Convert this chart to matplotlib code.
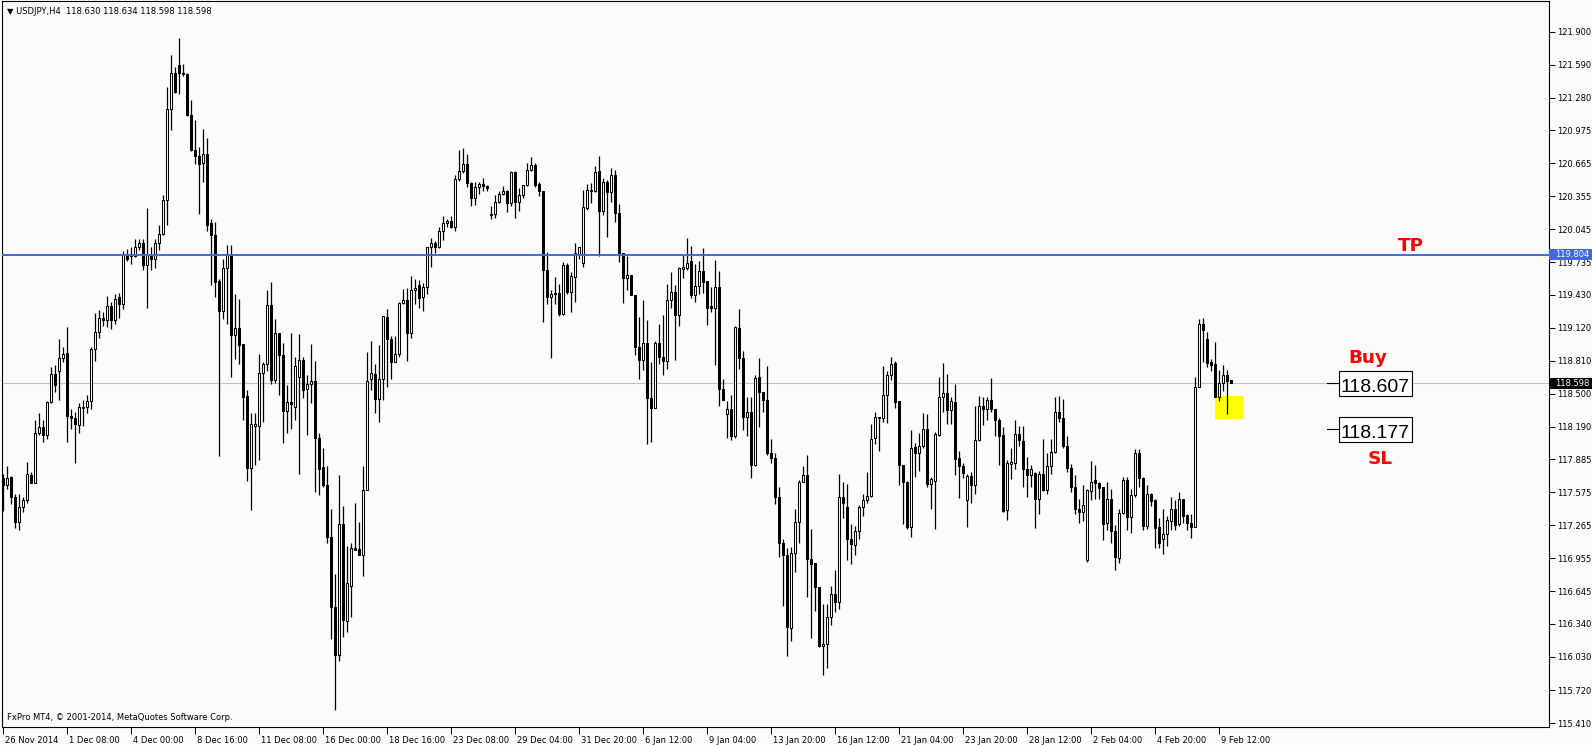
import numpy as np
import matplotlib
matplotlib.use("Agg")
import matplotlib.pyplot as plt
from matplotlib.patches import Rectangle
from matplotlib.transforms import ScaledTranslation

plt.rcParams['font.family'] = ['DejaVu Sans']

# USDJPY H4 candles, 26 Nov 2014 16:00 -> 9 Feb 2015
opens = [
    117.71, 117.64, 117.72, 117.53, 117.30, 117.44, 117.50, 117.74, 117.66, 118.13,
    118.19, 118.11, 118.42, 118.69, 118.71, 118.84, 118.88, 118.29, 118.27, 118.21,
    118.37, 118.38, 118.43, 118.92, 119.08, 119.21, 119.19, 119.32, 119.19, 119.41,
    119.34, 119.80, 119.79, 119.79, 119.88, 119.92, 119.71, 119.80, 119.77, 119.92,
    120.00, 120.32, 121.17, 121.51, 121.59, 121.51, 121.50, 121.12, 120.79, 120.73,
    120.67, 120.75, 120.10, 119.99, 119.56, 119.28, 119.68, 119.80, 119.05, 119.12,
    118.97, 118.48, 117.80, 118.20, 118.20, 118.70, 118.78, 119.33, 118.63, 119.07,
    118.86, 118.34, 118.42, 118.38, 118.66, 118.82, 118.55, 118.59, 118.62, 118.09,
    117.81, 117.64, 117.16, 116.50, 116.05, 117.28, 116.37, 116.70, 117.05, 117.04,
    116.99, 117.60, 118.64, 118.69, 118.45, 118.64, 119.22, 119.01, 118.80, 118.87,
    119.35, 119.38, 119.07, 119.47, 119.52, 119.41, 119.50, 119.88, 119.92, 119.88,
    120.03, 120.10, 120.12, 120.07, 120.52, 120.59, 120.66, 120.48, 120.34, 120.44,
    120.47, 120.45, 120.18, 120.19, 120.30, 120.38, 120.40, 120.29, 120.58, 120.30,
    120.37, 120.46, 120.60, 120.65, 120.47, 120.40, 119.66, 119.41, 119.45, 119.45,
    119.25, 119.71, 119.46, 119.60, 119.81, 119.73, 120.24, 120.41, 120.40, 120.59,
    120.22, 120.49, 120.39, 120.55, 120.20, 119.82, 119.59, 119.62, 119.43, 118.94,
    118.82, 118.98, 118.46, 118.37, 118.98, 118.85, 118.81, 119.38, 119.46, 119.24,
    119.67, 119.68, 119.75, 119.43, 119.51, 119.65, 119.56, 119.32, 119.31, 119.50,
    118.55, 118.31, 118.36, 118.10, 119.12, 118.84, 118.28, 118.33, 117.83, 118.66,
    118.52, 118.44, 117.94, 117.90, 117.53, 117.10, 116.99, 116.30, 117.01, 117.30,
    117.67, 117.74, 116.95, 116.91, 116.69, 116.13, 116.15, 116.41, 116.62, 116.55,
    117.53, 117.44, 117.14, 117.08, 117.21, 117.44, 117.50, 117.54, 118.09, 118.28,
    118.27, 118.49, 118.68, 118.79, 118.43, 117.83, 117.67, 117.25, 118.00, 117.94,
    118.01, 118.17, 117.65, 117.68, 118.11, 118.47, 118.51, 118.35, 118.42, 117.90,
    117.82, 117.50, 117.73, 117.64, 118.07, 118.39, 118.36, 118.44, 118.36, 118.25,
    118.11, 117.41, 117.84, 117.85, 118.12, 118.06, 117.79, 117.74, 117.76, 117.51,
    117.75, 117.60, 117.82, 117.95, 118.33, 118.27, 118.01, 117.80, 117.63, 117.42,
    117.39, 116.94, 117.59, 117.69, 117.66, 117.63, 117.29, 117.51, 117.21, 116.96,
    117.38, 117.69, 117.34, 117.55, 117.94, 117.71, 117.26, 117.56, 117.50, 117.25,
    117.14, 117.18, 117.31, 117.42, 117.28, 117.51, 117.36, 117.29, 117.25, 118.56,
    119.16, 119.01, 118.80, 118.78, 118.47, 118.60, 118.68, 118.630,
]
highs = [
    117.75, 117.82, 117.73, 117.56, 117.56, 117.53, 117.86, 117.77, 118.25, 118.32,
    118.25, 118.43, 118.75, 118.77, 119.01, 118.94, 119.13, 118.36, 118.33, 118.41,
    118.44, 118.49, 118.94, 119.26, 119.29, 119.27, 119.42, 119.36, 119.44, 119.45,
    119.84, 119.86, 119.88, 119.95, 119.95, 119.95, 120.24, 119.88, 119.95, 120.08,
    120.37, 121.38, 121.68, 121.57, 121.84, 121.60, 121.51, 121.26, 121.07, 120.82,
    120.99, 120.90, 120.14, 120.11, 119.58, 119.77, 119.90, 119.90, 119.44, 119.39,
    118.97, 118.54, 118.32, 118.32, 118.87, 118.80, 119.47, 119.55, 119.20, 119.07,
    118.98, 118.58, 119.07, 118.85, 119.06, 118.85, 118.68, 118.97, 118.81, 118.13,
    117.99, 117.82, 117.42, 116.81, 117.74, 117.45, 117.07, 117.10, 117.48, 117.30,
    117.82, 118.89, 119.00, 118.78, 118.96, 119.23, 119.30, 119.04, 119.04, 119.36,
    119.48, 119.49, 119.61, 119.58, 119.57, 119.54, 119.88, 119.96, 119.93, 120.07,
    120.17, 120.14, 120.17, 120.55, 120.79, 120.81, 120.75, 120.49, 120.49, 120.49,
    120.53, 120.46, 120.26, 120.37, 120.40, 120.45, 120.41, 120.59, 120.59, 120.43,
    120.46, 120.67, 120.72, 120.67, 120.49, 120.40, 119.83, 119.47, 119.60, 119.53,
    119.74, 119.73, 119.64, 119.92, 119.88, 120.41, 120.47, 120.48, 120.64, 120.73,
    120.53, 120.51, 120.62, 120.60, 120.28, 119.82, 119.79, 119.62, 119.43, 119.22,
    119.38, 119.19, 118.80, 119.00, 119.16, 119.24, 119.53, 119.64, 119.52, 119.69,
    119.80, 119.96, 119.89, 119.72, 119.75, 119.87, 119.56, 119.50, 119.76, 119.65,
    118.64, 118.43, 118.49, 119.14, 119.30, 118.90, 118.47, 118.47, 118.68, 118.84,
    118.52, 118.76, 118.08, 117.94, 117.63, 117.14, 117.05, 117.06, 117.42, 117.69,
    117.82, 117.93, 117.23, 116.91, 116.69, 116.53, 116.53, 116.70, 116.85, 117.75,
    117.67, 117.65, 117.28, 117.26, 117.46, 117.56, 117.77, 118.22, 118.33, 118.28,
    118.76, 118.71, 118.85, 118.81, 118.43, 117.83, 117.68, 118.16, 118.04, 118.13,
    118.32, 118.31, 117.72, 118.14, 118.66, 118.79, 118.69, 118.47, 118.59, 117.96,
    117.85, 117.75, 117.77, 118.39, 118.48, 118.47, 118.47, 118.65, 118.36, 118.27,
    118.19, 117.88, 117.99, 118.25, 118.20, 118.20, 117.91, 117.83, 117.77, 117.78,
    118.08, 117.94, 118.08, 118.47, 118.48, 118.45, 118.10, 117.84, 117.74, 117.51,
    117.64, 117.61, 117.87, 117.83, 117.67, 117.63, 117.67, 117.61, 117.27, 117.42,
    117.72, 117.72, 117.61, 117.98, 117.98, 117.72, 117.64, 117.57, 117.51, 117.33,
    117.42, 117.35, 117.53, 117.50, 117.58, 117.51, 117.37, 117.37, 118.66, 119.20,
    119.21, 119.08, 118.83, 118.99, 118.72, 118.77, 118.72, 118.634,
]
lows = [
    117.40, 117.61, 117.47, 117.24, 117.22, 117.39, 117.48, 117.66, 117.66, 118.11,
    118.05, 118.08, 118.41, 118.52, 118.44, 118.80, 118.05, 118.17, 117.85, 118.13,
    118.20, 118.32, 118.36, 118.81, 119.02, 119.14, 119.13, 119.11, 119.16, 119.21,
    119.30, 119.75, 119.72, 119.78, 119.85, 119.66, 119.31, 119.66, 119.68, 119.85,
    119.99, 120.08, 120.98, 121.32, 121.31, 121.48, 121.11, 120.78, 120.66, 120.19,
    120.49, 120.03, 119.52, 119.41, 117.92, 119.20, 119.16, 118.66, 118.83, 118.78,
    118.25, 117.68, 117.41, 117.83, 117.88, 118.24, 118.71, 118.59, 118.60, 118.49,
    118.04, 118.13, 118.17, 118.25, 117.75, 118.46, 118.11, 118.41, 117.58, 117.55,
    117.63, 117.10, 116.20, 115.53, 115.99, 116.22, 116.26, 116.41, 117.03, 116.99,
    116.79, 117.60, 118.54, 118.32, 118.24, 118.44, 118.56, 118.64, 118.80, 118.85,
    119.34, 118.81, 119.02, 119.34, 119.31, 119.28, 119.44, 119.69, 119.82, 119.87,
    119.94, 120.07, 120.06, 120.03, 120.50, 120.57, 120.44, 120.26, 120.27, 120.38,
    120.40, 120.40, 120.14, 120.15, 120.29, 120.37, 120.21, 120.26, 120.15, 120.22,
    120.34, 120.45, 120.59, 120.44, 120.36, 119.17, 119.34, 118.84, 119.34, 119.23,
    119.24, 119.44, 119.27, 119.36, 119.77, 119.69, 120.23, 120.29, 120.39, 119.79,
    120.18, 119.97, 120.30, 120.11, 119.74, 119.35, 119.47, 119.43, 118.86, 118.64,
    118.72, 118.03, 118.05, 118.37, 118.78, 118.68, 118.73, 119.31, 118.82, 119.14,
    119.59, 119.66, 119.40, 119.36, 119.44, 119.45, 119.15, 119.27, 118.77, 118.39,
    118.44, 118.09, 118.07, 118.09, 118.73, 118.16, 118.10, 117.71, 117.82, 118.19,
    118.33, 117.93, 117.85, 117.47, 116.97, 116.51, 116.04, 116.18, 116.83, 117.10,
    117.67, 116.59, 116.21, 116.46, 116.12, 115.86, 115.93, 116.33, 116.45, 116.48,
    117.33, 116.94, 116.90, 116.99, 117.14, 117.35, 117.48, 117.53, 118.03, 117.96,
    118.24, 118.23, 118.63, 118.37, 117.64, 117.28, 117.23, 117.16, 117.72, 117.78,
    117.99, 117.63, 117.42, 117.23, 118.10, 118.33, 118.22, 118.22, 117.74, 117.52,
    117.71, 117.25, 117.48, 117.56, 118.06, 118.21, 118.25, 118.33, 118.10, 117.83,
    117.39, 117.32, 117.70, 117.79, 118.01, 117.63, 117.53, 117.63, 117.24, 117.37,
    117.59, 117.56, 117.75, 117.94, 118.24, 117.99, 117.77, 117.58, 117.37, 117.29,
    117.31, 116.92, 117.50, 117.51, 117.51, 117.13, 117.22, 117.10, 116.85, 116.91,
    117.37, 117.22, 117.19, 117.53, 117.63, 117.22, 117.23, 117.45, 117.05, 117.05,
    117.00, 117.07, 117.22, 117.22, 117.26, 117.29, 117.22, 117.15, 117.25, 118.56,
    118.80, 118.75, 118.71, 118.47, 118.43, 118.53, 118.31, 118.598,
]
closes = [
    117.64, 117.71, 117.53, 117.30, 117.44, 117.50, 117.75, 117.66, 118.13, 118.19,
    118.11, 118.42, 118.69, 118.58, 118.84, 118.87, 118.29, 118.27, 118.22, 118.38,
    118.38, 118.43, 118.92, 119.08, 119.21, 119.19, 119.32, 119.19, 119.39, 119.34,
    119.80, 119.77, 119.80, 119.88, 119.92, 119.71, 119.80, 119.77, 119.92, 120.00,
    120.32, 121.17, 121.51, 121.33, 121.51, 121.50, 121.12, 120.79, 120.73, 120.66,
    120.75, 120.08, 119.99, 119.55, 119.28, 119.68, 119.80, 119.05, 119.12, 118.96,
    118.47, 117.80, 118.22, 118.22, 118.70, 118.78, 119.33, 118.63, 119.07, 118.86,
    118.34, 118.42, 118.40, 118.76, 118.82, 118.54, 118.59, 118.62, 118.09, 117.79,
    117.64, 117.16, 116.50, 116.05, 117.28, 116.38, 116.72, 117.05, 117.03, 116.99,
    117.60, 118.62, 118.70, 118.45, 118.64, 119.23, 119.01, 118.80, 118.87, 119.35,
    119.38, 119.07, 119.47, 119.49, 119.40, 119.50, 119.88, 119.92, 119.88, 120.03,
    120.10, 120.12, 120.07, 120.52, 120.59, 120.66, 120.48, 120.34, 120.44, 120.47,
    120.45, 120.43, 120.19, 120.30, 120.38, 120.40, 120.29, 120.58, 120.30, 120.37,
    120.46, 120.60, 120.65, 120.46, 120.40, 119.66, 119.41, 119.44, 119.44, 119.25,
    119.71, 119.46, 119.61, 119.82, 119.88, 120.25, 120.41, 120.40, 120.58, 120.22,
    120.49, 120.39, 120.55, 120.20, 119.82, 119.59, 119.62, 119.43, 118.94, 118.82,
    118.98, 118.46, 118.37, 118.98, 118.85, 118.81, 119.38, 119.46, 119.24, 119.68,
    119.69, 119.73, 119.43, 119.51, 119.65, 119.55, 119.31, 119.31, 119.50, 118.55,
    118.44, 118.36, 118.10, 119.13, 118.84, 118.28, 118.33, 117.83, 118.65, 118.52,
    118.44, 117.94, 117.90, 117.53, 117.10, 116.99, 116.31, 117.01, 117.30, 117.67,
    117.74, 116.95, 116.90, 116.69, 116.13, 116.15, 116.41, 116.62, 116.55, 117.53,
    117.48, 117.14, 117.09, 117.21, 117.44, 117.50, 117.54, 118.08, 118.28, 118.27,
    118.49, 118.68, 118.78, 118.42, 117.83, 117.67, 117.25, 117.99, 117.94, 118.01,
    118.17, 117.65, 117.70, 118.12, 118.47, 118.51, 118.35, 118.43, 117.89, 117.82,
    117.76, 117.73, 117.64, 118.07, 118.39, 118.36, 118.44, 118.36, 118.25, 118.10,
    117.40, 117.85, 117.86, 118.12, 118.07, 117.79, 117.74, 117.79, 117.51, 117.75,
    117.60, 117.82, 117.95, 118.33, 118.27, 118.01, 117.80, 117.63, 117.42, 117.39,
    117.46, 117.60, 117.67, 117.66, 117.62, 117.28, 117.51, 117.21, 116.97, 117.38,
    117.69, 117.34, 117.55, 117.94, 117.71, 117.26, 117.56, 117.49, 117.24, 117.10,
    117.18, 117.32, 117.42, 117.27, 117.51, 117.35, 117.29, 117.25, 118.56, 119.16,
    119.10, 118.79, 118.77, 118.47, 118.60, 118.68, 118.62, 118.598,
]

x_labels = ["26 Nov 2014", "1 Dec 08:00", "4 Dec 00:00", "8 Dec 16:00", "11 Dec 08:00",
            "16 Dec 00:00", "18 Dec 16:00", "23 Dec 08:00", "29 Dec 04:00", "31 Dec 20:00",
            "6 Jan 12:00", "9 Jan 04:00", "13 Jan 20:00", "16 Jan 12:00", "21 Jan 04:00",
            "23 Jan 20:00", "28 Jan 12:00", "2 Feb 04:00", "4 Feb 20:00", "9 Feb 12:00"]
y_ticks = [121.900, 121.590, 121.280, 120.975, 120.665, 120.355, 120.045, 119.735,
           119.430, 119.120, 118.810, 118.500, 118.190, 117.885, 117.575, 117.265,
           116.955, 116.645, 116.340, 116.030, 115.720, 115.410]

tp_price = 119.804
bid_price = 118.598
buy_price = 118.607
sl_price = 118.177

BG = '#fdfbfa'
BLUE = '#4169e1'
W, H = 1592, 745

fig = plt.figure(figsize=(W / 100, H / 100), dpi=100, facecolor=BG)
ax = fig.add_axes([2 / W, 18 / H, 1547 / W, 726 / H], facecolor=BG)

o = np.array(opens)
h = np.array(highs)
l = np.array(lows)
c = np.array(closes)
assert len(o) == len(h) == len(l) == len(c)
idx = np.arange(len(o))
up = c >= o

ax.axhline(bid_price, color='#c0c0c0', lw=0.8, zorder=1)
ax.add_patch(Rectangle((302.9, 118.261), 6.95, 0.221, fc='#ffff00', ec='none', zorder=1.5))

ax.vlines(idx, l, h, color='black', lw=0.9, zorder=2)
ax.bar(idx[up], (c - o)[up], bottom=o[up], width=0.5, color='white',
       edgecolor='black', linewidth=0.75, zorder=3)
ax.bar(idx[~up], (c - o)[~up], bottom=o[~up], width=0.5, color='black',
       edgecolor='black', linewidth=0.75, zorder=3)

ax.axhline(tp_price, color=BLUE, lw=1.4, zorder=4)

ax.set_xlim(-0.33, 386.4)
ax.set_ylim(115.373, 122.187)

for s in ax.spines.values():
    s.set_color('black')
    s.set_linewidth(0.8)

# price axis on the right
ax.yaxis.tick_right()
ax.set_yticks(y_ticks)
ax.set_yticklabels([f'{v:.3f}' for v in y_ticks])
ax.tick_params(axis='y', length=4, width=0.7, pad=2, labelsize=6, colors='black')

ax.set_xticks(np.arange(len(x_labels)) * 16)
ax.set_xticklabels(x_labels, ha='left')
ax.tick_params(axis='x', length=5, width=0.7, pad=1.5, labelsize=6, colors='black')
shift = ScaledTranslation(2 / 100, 0, fig.dpi_scale_trans)
for lbl in ax.get_xticklabels():
    lbl.set_transform(lbl.get_transform() + shift)

# price tags on the axis
ytr = ax.get_yaxis_transform()
for price, col in [(tp_price, BLUE), (bid_price, 'black')]:
    ax.add_patch(Rectangle((1.0, price - 0.052), 0.028, 0.104, transform=ytr,
                           fc=col, ec='none', zorder=10, clip_on=False))
    ax.text(1.0 + 6 / 1547, price, f'{price:.3f}', transform=ytr, color='white',
            fontsize=6, ha='left', va='center', zorder=11, clip_on=False)

# annotations
red = dict(color='#ff0000', fontsize=13.2, fontweight='bold', ha='center', va='baseline', zorder=8)
ax.text(351.9, 119.843, 'TP', **red)
ax.text(341.1, 118.786, 'Buy', **red)
ax.text(344.1, 117.839, 'SL', **red)

for price in [buy_price, sl_price]:
    ax.add_patch(Rectangle((333.8, price - 0.125), 18.3, 0.232, fc='white', ec='black',
                           lw=0.8, zorder=6))
    ax.plot([330.8, 333.8], [price - 0.01, price - 0.01], color='black', lw=0.8, zorder=6)
    ax.text(342.95, price - 0.088, f'{price:.3f}', fontsize=14, color='black',
            family=['Liberation Sans', 'DejaVu Sans'],
            ha='center', va='baseline', zorder=7)

fig.text(7 / W, 1 - 11 / H, '\u25bc USDJPY,H4  118.630 118.634 118.598 118.598',
         fontsize=6, ha='left', va='center')
fig.text(7 / W, 1 - 718 / H, 'FxPro MT4, \u00a9 2001-2014, MetaQuotes Software Corp.',
         fontsize=6, ha='left', va='center')

fig.savefig('out.png', dpi=100, facecolor=BG)
